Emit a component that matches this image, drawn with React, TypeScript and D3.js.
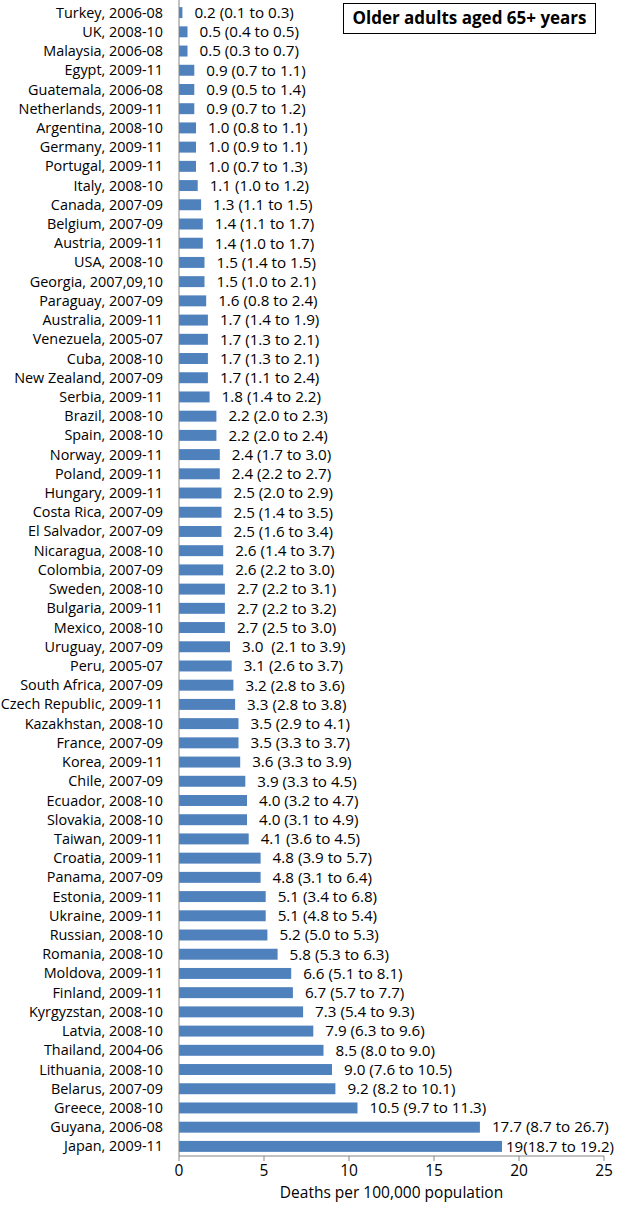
import React from "react";
import * as d3 from "d3";

const categories = [
  "Turkey, 2006-08", "UK, 2008-10", "Malaysia, 2006-08", "Egypt, 2009-11", "Guatemala, 2006-08",
  "Netherlands, 2009-11", "Argentina, 2008-10", "Germany, 2009-11", "Portugal, 2009-11", "Italy, 2008-10",
  "Canada, 2007-09", "Belgium, 2007-09", "Austria, 2009-11", "USA, 2008-10", "Georgia, 2007,09,10",
  "Paraguay, 2007-09", "Australia, 2009-11", "Venezuela, 2005-07", "Cuba, 2008-10", "New Zealand, 2007-09",
  "Serbia, 2009-11", "Brazil, 2008-10", "Spain, 2008-10", "Norway, 2009-11", "Poland, 2009-11",
  "Hungary, 2009-11", "Costa Rica, 2007-09", "El Salvador, 2007-09", "Nicaragua, 2008-10", "Colombia, 2007-09",
  "Sweden, 2008-10", "Bulgaria, 2009-11", "Mexico, 2008-10", "Uruguay, 2007-09", "Peru, 2005-07",
  "South Africa, 2007-09", "Czech Republic, 2009-11", "Kazakhstan, 2008-10", "France, 2007-09", "Korea, 2009-11",
  "Chile, 2007-09", "Ecuador, 2008-10", "Slovakia, 2008-10", "Taiwan, 2009-11", "Croatia, 2009-11",
  "Panama, 2007-09", "Estonia, 2009-11", "Ukraine, 2009-11", "Russian, 2008-10", "Romania, 2008-10",
  "Moldova, 2009-11", "Finland, 2009-11", "Kyrgyzstan, 2008-10", "Latvia, 2008-10", "Thailand, 2004-06",
  "Lithuania, 2008-10", "Belarus, 2007-09", "Greece, 2008-10", "Guyana, 2006-08", "Japan, 2009-11",
];

const values = [
  0.2, 0.5, 0.5, 0.9, 0.9, 0.9, 1.0, 1.0, 1.0, 1.1,
  1.3, 1.4, 1.4, 1.5, 1.5, 1.6, 1.7, 1.7, 1.7, 1.7,
  1.8, 2.2, 2.2, 2.4, 2.4, 2.5, 2.5, 2.5, 2.6, 2.6,
  2.7, 2.7, 2.7, 3.0, 3.1, 3.2, 3.3, 3.5, 3.5, 3.6,
  3.9, 4.0, 4.0, 4.1, 4.8, 4.8, 5.1, 5.1, 5.2, 5.8,
  6.6, 6.7, 7.3, 7.9, 8.5, 9.0, 9.2, 10.5, 17.7, 19.0,
];

const valueLabels = [
  "0.2 (0.1 to 0.3)", "0.5 (0.4 to 0.5)", "0.5 (0.3 to 0.7)", "0.9 (0.7 to 1.1)", "0.9 (0.5 to 1.4)",
  "0.9 (0.7 to 1.2)", "1.0 (0.8 to 1.1)", "1.0 (0.9 to 1.1)", "1.0 (0.7 to 1.3)", "1.1 (1.0 to 1.2)",
  "1.3 (1.1 to 1.5)", "1.4 (1.1 to 1.7)", "1.4 (1.0 to 1.7)", "1.5 (1.4 to 1.5)", "1.5 (1.0 to 2.1)",
  "1.6 (0.8 to 2.4)", "1.7 (1.4 to 1.9)", "1.7 (1.3 to 2.1)", "1.7 (1.3 to 2.1)", "1.7 (1.1 to 2.4)",
  "1.8 (1.4 to 2.2)", "2.2 (2.0 to 2.3)", "2.2 (2.0 to 2.4)", "2.4 (1.7 to 3.0)", "2.4 (2.2 to 2.7)",
  "2.5 (2.0 to 2.9)", "2.5 (1.4 to 3.5)", "2.5 (1.6 to 3.4)", "2.6 (1.4 to 3.7)", "2.6 (2.2 to 3.0)",
  "2.7 (2.2 to 3.1)", "2.7 (2.2 to 3.2)", "2.7 (2.5 to 3.0)", "3.0  (2.1 to 3.9)", "3.1 (2.6 to 3.7)",
  "3.2 (2.8 to 3.6)", "3.3 (2.8 to 3.8)", "3.5 (2.9 to 4.1)", "3.5 (3.3 to 3.7)", "3.6 (3.3 to 3.9)",
  "3.9 (3.3 to 4.5)", "4.0 (3.2 to 4.7)", "4.0 (3.1 to 4.9)", "4.1 (3.6 to 4.5)", "4.8 (3.9 to 5.7)",
  "4.8 (3.1 to 6.4)", "5.1 (3.4 to 6.8)", "5.1 (4.8 to 5.4)", "5.2 (5.0 to 5.3)", "5.8 (5.3 to 6.3)",
  "6.6 (5.1 to 8.1)", "6.7 (5.7 to 7.7)", "7.3 (5.4 to 9.3)", "7.9 (6.3 to 9.6)", "8.5 (8.0 to 9.0)",
  "9.0 (7.6 to 10.5)", "9.2 (8.2 to 10.1)", "10.5 (9.7 to 11.3)", "17.7 (8.7 to 26.7)", "19(18.7 to 19.2)",
];

const xTicks = [0, 5, 10, 15, 20, 25];
const xTitle = "Deaths per 100,000 population";
const legendTitle = "Older adults aged 65+ years";

const W = 618;
const H = 1205;
const FONT = "'Open Sans', sans-serif";
const VALUE_FS = 15.2;

let ctx: CanvasRenderingContext2D | null = null;
function measure(text: string, size: number): number {
  if (!ctx) {
    const c = document.createElement("canvas");
    ctx = c.getContext("2d");
  }
  if (!ctx) return text.length * size * 0.55;
  ctx.font = `${size}px 'Open Sans', sans-serif`;
  return ctx.measureText(text).width;
}

export default function App() {
  const x = d3.scaleLinear().domain([0, 25]).range([179, 604]);
  const y = d3.scaleBand<string>().domain(categories).range([3, 1156]).paddingInner(0.43).paddingOuter(0.215);
  const axisY = 1156;
  const x0 = x(0);
  const bw = y.bandwidth();

  return (
    <svg
      width={W}
      height={H}
      style={{ position: "absolute", left: 0, top: 0, background: "#fff" }}
      fontFamily={FONT}
    >
      <rect x={0} y={0} width={W} height={H} fill="#fff" />
      {categories.map((c, i) => {
        const yc = (y(c) as number) + bw / 2;
        const lbl = valueLabels[i];
        const wLbl = measure(lbl.replace("  ", " \u00a0"), VALUE_FS);
        const end = x(values[i]);
        const fits = end + 12 + wLbl <= W - 3;
        const lx = fits ? end + 12 : end + 4;
        const avail = W - 4 - lx;
        return (
          <g key={c}>
            <rect x={x0} y={y(c)} width={end - x0} height={bw} fill="#4f81bd" />
            <text x={x0 - 16} y={yc} dy="0.35em" textAnchor="end" fontSize={14.4} fill="#000">
              {c}
            </text>
            <text
              x={lx}
              y={yc}
              dy="0.35em"
              fontSize={VALUE_FS}
              fill="#000"
              style={{ whiteSpace: "pre" }}
              {...(!fits && wLbl > avail ? { textLength: avail, lengthAdjust: "spacingAndGlyphs" } : {})}
            >
              {lbl}
            </text>
          </g>
        );
      })}
      <line x1={x0} x2={x0} y1={0} y2={axisY} stroke="#868686" strokeWidth={1} />
      <line x1={x0} x2={x(25)} y1={axisY} y2={axisY} stroke="#868686" strokeWidth={1} />
      {xTicks.map((t) => (
        <g key={t}>
          <line x1={x(t)} x2={x(t)} y1={axisY} y2={axisY + 5} stroke="#868686" strokeWidth={1} />
          <text x={x(t)} y={1171} dy="0.35em" textAnchor="middle" fontSize={15.5} fill="#000">
            {t}
          </text>
        </g>
      ))}
      <text x={(x(0) + x(25)) / 2} y={1193} dy="0.35em" textAnchor="middle" fontSize={15.5} fill="#000">
        {xTitle}
      </text>
      <rect x={343.5} y={3.5} width={252} height={30} fill="#fff" stroke="#000" strokeWidth={1} />
      <text x={469.5} y={18.5} dy="0.35em" textAnchor="middle" fontSize={17} fontWeight="bold" fill="#000">
        {legendTitle}
      </text>
    </svg>
  );
}
